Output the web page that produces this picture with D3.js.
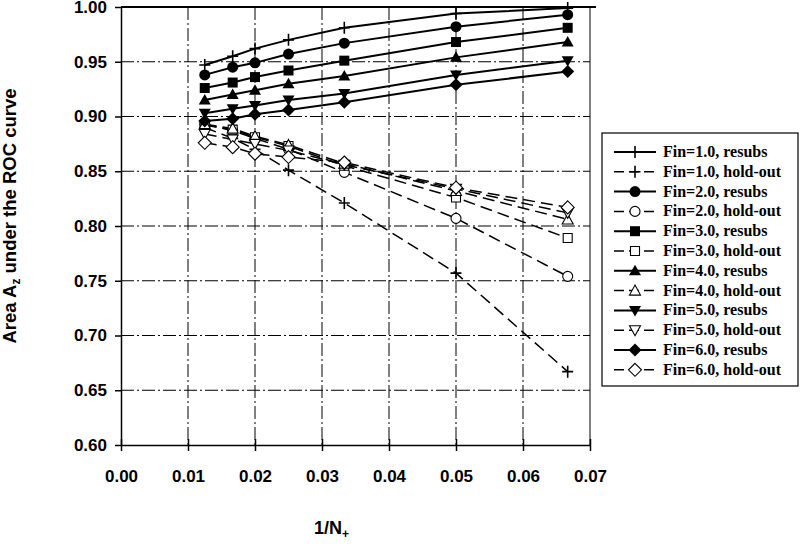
<!DOCTYPE html>
<html><head><meta charset="utf-8">
<script src="https://cdn.jsdelivr.net/npm/d3@7"></script>
<style>body{margin:0;background:#fff}svg{display:block}</style>
</head><body><svg id="c" width="800" height="558"></svg>
<script>
// ---- data ----
const xValues = [0.0125, 0.01667, 0.02, 0.025, 0.03333, 0.05, 0.06667];
const xTicks = [0.00, 0.01, 0.02, 0.03, 0.04, 0.05, 0.06, 0.07];
const yTicks = [0.60, 0.65, 0.70, 0.75, 0.80, 0.85, 0.90, 0.95, 1.00];
const seriesNames = ["Fin=1.0, resubs", "Fin=1.0, hold-out", "Fin=2.0, resubs", "Fin=2.0, hold-out",
  "Fin=3.0, resubs", "Fin=3.0, hold-out", "Fin=4.0, resubs", "Fin=4.0, hold-out",
  "Fin=5.0, resubs", "Fin=5.0, hold-out", "Fin=6.0, resubs", "Fin=6.0, hold-out"];
const fin1Resubs  = [0.947, 0.955, 0.962, 0.970, 0.981, 0.994, 0.999];
const fin1Holdout = [0.890, 0.880, 0.870, 0.851, 0.821, 0.757, 0.667];
const fin2Resubs  = [0.938, 0.945, 0.949, 0.957, 0.967, 0.982, 0.993];
const fin2Holdout = [0.893, 0.887, 0.880, 0.870, 0.849, 0.807, 0.754];
const fin3Resubs  = [0.926, 0.931, 0.936, 0.942, 0.951, 0.968, 0.981];
const fin3Holdout = [0.892, 0.888, 0.881, 0.873, 0.855, 0.826, 0.789];
const fin4Resubs  = [0.915, 0.920, 0.924, 0.930, 0.937, 0.954, 0.968];
const fin4Holdout = [0.893, 0.889, 0.882, 0.874, 0.857, 0.832, 0.806];
const fin5Resubs  = [0.903, 0.907, 0.910, 0.915, 0.921, 0.938, 0.951];
const fin5Holdout = [0.884, 0.879, 0.875, 0.869, 0.856, 0.834, 0.812];
const fin6Resubs  = [0.896, 0.898, 0.902, 0.906, 0.913, 0.929, 0.941];
const fin6Holdout = [0.876, 0.872, 0.866, 0.863, 0.858, 0.835, 0.817];
const seriesValues = [fin1Resubs, fin1Holdout, fin2Resubs, fin2Holdout, fin3Resubs, fin3Holdout,
  fin4Resubs, fin4Holdout, fin5Resubs, fin5Holdout, fin6Resubs, fin6Holdout];
const markerTypes = ["plus", "plus", "circle", "circle", "square", "square",
  "triangle", "triangle", "triDown", "triDown", "diamond", "diamond"];

// ---- layout ----
const svg = d3.select("#c");
const x = d3.scaleLinear().domain([0, 0.07]).range([121, 590]);
const y = d3.scaleLinear().domain([0.6, 1.0]).range([445, 7]);
const numFont = "'Liberation Sans', Arial, sans-serif";
const legFont = "'Liberation Serif', 'Times New Roman', serif";

function markerPath(t) {
  switch (t) {
    case "plus": return "M-5.5,0H5.5M0,-6V6";
    case "circle": return "M5.5,0A5.5,5.5 0 1 1 -5.5,0A5.5,5.5 0 1 1 5.5,0Z";
    case "square": return "M-5,-5H5V5H-5Z";
    case "triangle": return "M0,-6L6,4.5H-6Z";
    case "triDown": return "M0,6L6,-4.5H-6Z";
    case "diamond": return "M0,-6.5L6.5,0L0,6.5L-6.5,0Z";
  }
}
function openPath(t) {
  switch (t) {
    case "plus": return "M-5,0H5M0,-5.5V5.5";
    case "circle": return "M5,0A5,5 0 1 1 -5,0A5,5 0 1 1 5,0Z";
    case "square": return "M-4.5,-4.5H4.5V4.5H-4.5Z";
    case "triangle": return "M0,-5.5L5.5,4.5H-5.5Z";
    case "triDown": return "M0,5.5L5.5,-4.5H-5.5Z";
    case "diamond": return "M0,-6.5L6.5,0L0,6.5L-6.5,0Z";
  }
}
function drawMarker(g, t, hold) {
  const p = g.append("path");
  if (t === "plus") {
    p.attr("d", markerPath(t)).attr("stroke", "#000").attr("stroke-width", 1.6).attr("fill", "none");
  } else if (hold) {
    p.attr("d", openPath(t)).attr("stroke", "#000").attr("stroke-width", 1.1).attr("fill", "#fff");
  } else {
    p.attr("d", markerPath(t)).attr("fill", "#000");
  }
}

// ---- grid ----
const grid = svg.append("g");
grid.selectAll(".hg").data(yTicks.filter(v => v > 0.6 && v < 1.0)).join("line")
  .attr("x1", x(0)).attr("x2", x(0.07)).attr("y1", d => y(d)).attr("y2", d => y(d))
  .attr("stroke", "#000").attr("stroke-width", 1).attr("stroke-dasharray", "13,3,2,3");
grid.selectAll(".vg").data(xTicks.filter(v => v > 0 && v < 0.07)).join("line")
  .attr("y1", y(1.0)).attr("y2", y(0.6)).attr("x1", d => x(d)).attr("x2", d => x(d))
  .attr("stroke", "#000").attr("stroke-width", 1).attr("stroke-dasharray", "13,3,2,3");
// top and right borders
svg.append("line").attr("x1", x(0)).attr("x2", x(0.07) + 6).attr("y1", y(1.0)).attr("y2", y(1.0))
  .attr("stroke", "#000").attr("stroke-width", 1.8);
svg.append("line").attr("x1", x(0.07)).attr("x2", x(0.07)).attr("y1", y(1.0)).attr("y2", y(0.6))
  .attr("stroke", "#000").attr("stroke-width", 1);

// ---- axes ----
const xAxis = svg.append("g").attr("transform", `translate(0,${y(0.6)})`)
  .call(d3.axisBottom(x).tickValues(xTicks).tickFormat(d3.format(".2f")).tickSizeInner(6).tickSizeOuter(0).tickPadding(19));
xAxis.select(".domain").attr("stroke-width", 1.5);
xAxis.selectAll(".tick line").attr("y1", -6).attr("stroke-width", 1.5);
xAxis.selectAll("text").attr("font-family", numFont).attr("font-size", 17).attr("font-weight", "bold").attr("fill", "#000");

const yAxis = svg.append("g").attr("transform", `translate(${x(0)},0)`)
  .call(d3.axisLeft(y).tickValues(yTicks).tickFormat(d3.format(".2f")).tickSizeInner(6).tickSizeOuter(0).tickPadding(8));
yAxis.select(".domain").attr("stroke-width", 1.5);
yAxis.selectAll(".tick line").attr("stroke-width", 1.5);
yAxis.selectAll("text").attr("font-family", numFont).attr("font-size", 17).attr("font-weight", "bold").attr("fill", "#000");

// axis titles
const yt = svg.append("text").attr("transform", "translate(16,216) rotate(-90)")
  .attr("text-anchor", "middle").attr("font-family", numFont).attr("font-size", 18.5).attr("font-weight", "bold");
yt.append("tspan").text("Area A");
yt.append("tspan").attr("font-size", 12).attr("dy", 4).text("z");
yt.append("tspan").attr("dy", -4).text(" under the ROC curve");

const xt = svg.append("text").attr("x", 314).attr("y", 534)
  .attr("font-family", numFont).attr("font-size", 18).attr("font-weight", "bold");
xt.append("tspan").text("1/N");
xt.append("tspan").attr("font-size", 12).attr("dy", 4).text("+");

// ---- series ----
const line = d3.line().x((d, i) => x(xValues[i])).y(d => y(d));
const plot = svg.append("g");
seriesValues.forEach((vals, k) => {
  const hold = k % 2 === 1;
  plot.append("path").attr("d", line(vals)).attr("fill", "none").attr("stroke", "#000")
    .attr("stroke-width", hold ? 1.5 : 2).attr("stroke-dasharray", hold ? "12,6" : null);
});
seriesValues.forEach((vals, k) => {
  const hold = k % 2 === 1;
  vals.forEach((v, i) => {
    const g = plot.append("g").attr("transform", `translate(${x(xValues[i])},${y(v)})`);
    drawMarker(g, markerTypes[k], hold);
  });
});

// ---- legend ----
const leg = svg.append("g");
const legTop = 133, legRow0 = 152, legStep = 19.8, legBottom = 386;
leg.append("rect").attr("x", 602).attr("y", legTop).attr("width", 196)
  .attr("height", legBottom - legTop).attr("fill", "#fff").attr("stroke", "#000").attr("stroke-width", 1.2);
seriesNames.forEach((name, k) => {
  const hold = k % 2 === 1;
  const ry = legRow0 + legStep * k;
  leg.append("line").attr("x1", 614).attr("x2", 656).attr("y1", ry).attr("y2", ry)
    .attr("stroke", "#000").attr("stroke-width", hold ? 1.5 : 2).attr("stroke-dasharray", hold ? "10,5" : null);
  const g = leg.append("g").attr("transform", `translate(635,${ry})`);
  drawMarker(g, markerTypes[k], hold);
  leg.append("text").attr("x", 663).attr("y", ry + 5).attr("font-family", legFont)
    .attr("font-size", 16).attr("font-weight", "bold").text(name);
});
</script></body></html>
